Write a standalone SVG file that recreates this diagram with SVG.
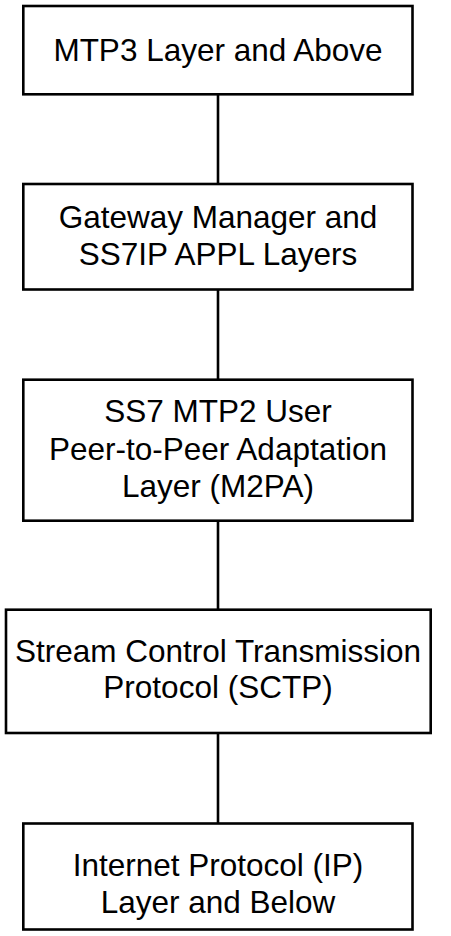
<svg xmlns="http://www.w3.org/2000/svg" width="451" height="936" viewBox="0 0 451 936">
<style>
.box{fill:#fff;stroke:#000;stroke-width:2.6}
.lbl{font-family:"Liberation Sans",Arial,Helvetica,sans-serif;font-size:31.5px;fill:#000;text-anchor:middle}
.conn{stroke:#000;stroke-width:2.6;fill:none}
</style>
<rect width="451" height="936" fill="#fff"/>
<g id="connectors">
<line class="conn" x1="218" y1="94" x2="218" y2="184"/>
<line class="conn" x1="218" y1="289" x2="218" y2="380"/>
<line class="conn" x1="218" y1="520" x2="218" y2="610"/>
<line class="conn" x1="218" y1="732" x2="218" y2="824"/>
</g>
<g id="mtp3">
<rect class="box" x="23.3" y="6" width="389.2" height="88.3"/>
<text class="lbl" x="218" y="61">MTP3 Layer and Above</text>
</g>
<g id="gateway">
<rect class="box" x="23.3" y="184" width="389.2" height="105.5"/>
<text class="lbl" x="218" y="228">Gateway Manager and</text>
<text class="lbl" x="218" y="265">SS7IP APPL Layers</text>
</g>
<g id="m2pa">
<rect class="box" x="23.3" y="379.7" width="389.2" height="141"/>
<text class="lbl" x="218" y="422">SS7 MTP2 User</text>
<text class="lbl" x="218" y="459.5">Peer-to-Peer Adaptation</text>
<text class="lbl" x="218" y="497">Layer (M2PA)</text>
</g>
<g id="sctp">
<rect class="box" x="6" y="609.7" width="424.7" height="123.3"/>
<text class="lbl" x="218" y="662">Stream Control Transmission</text>
<text class="lbl" x="218" y="698">Protocol (SCTP)</text>
</g>
<g id="ip">
<rect class="box" x="23.3" y="823.5" width="389.2" height="106"/>
<text class="lbl" x="218" y="876">Internet Protocol (IP)</text>
<text class="lbl" x="218" y="913">Layer and Below</text>
</g>
</svg>
